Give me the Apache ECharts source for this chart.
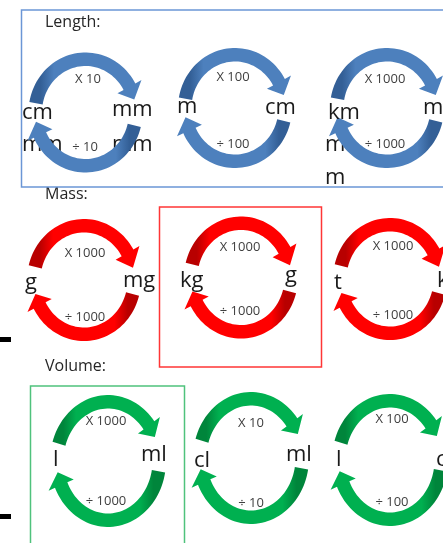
<!DOCTYPE html>
<html><head><meta charset="utf-8">
<script src="https://cdn.jsdelivr.net/npm/echarts@6/dist/echarts.min.js"></script>
<style>html,body{margin:0;padding:0;background:#fff}#c{width:443px;height:543px}</style>
</head><body><div id="c"></div>
<script>
// ---------- DATA ----------
const groupTitles = ['Length:', 'Mass:', 'Volume:'];
const fromUnits = [['cm', 'm', 'km'], ['g', 'kg', 't'], ['l', 'cl', 'l']];
const toUnits = [['mm', 'cm', 'm'], ['mg', 'g', 'k'], ['ml', 'ml', 'c']];
const factors = [[10, 100, 1000], [1000, 1000, 1000], [1000, 10, 100]];
const strayUnits = ['mm', 'mm', 'm', 'm'];

// ---------- LAYOUT (positions / sizes / styles) ----------
const centers = [[[85.5,112.5],[235,108],[387,108]], [[84,280],[241,277.5],[390,279]], [[108,461],[251,458],[390,460]]];
const radii = [[57,60],[57,61],[58,66]];
// arrow angles per row: [tail, head base, tip] for the upper and lower arrow
const topAngles = [[170,29,14],[166,30,13],[163,37,24]];
const botAngles = [[346,205,190],[345,208,195],[350,204,191]];
const fromPos = [[[22,113],[177,107],[328,113]], [[25,283],[180,281],[334,283]], [[53,460],[194,461],[336,460]]];
const toPos = [[[112,110],[265,108],[423,108]], [[123,281],[285,276],[437,281]], [[141,455],[286,455],[436,460]]];
const multPos = [[[88,79],[233,77],[385,79]], [[85,253],[240,247],[393,246]], [[106,421],[251,423],[392,419]]];
const divPos = [[[85,147],[233,144],[385,144]], [[85,317],[240,311],[393,315]], [[106,501],[251,503],[392,502]]];
const strayPos = [[22,145],[112,145],[325,145],[325,178]];
const titlePos = [[45,22],[45,194],[45,366]];
const boxes = [
  {r:[21.5,10,440,177], c:'#6b96d6'},
  {r:[159.5,207,162,160], c:'#ff3636'},
  {r:[30.5,386,154,170], c:'#4fc27c'}
];
const dashes = [[0,337,11,5],[0,514,11,5]];
const palette = [
  {base:'#4d80bd', dark:'#335f96'},
  {base:'#ff0000', dark:'#b80000'},
  {base:'#00b050', dark:'#00853b'}
];
const FONT = '"Open Sans", "Liberation Sans", sans-serif';

function arrowPoints(api, cx, cy, rx, ry, ang) {
  const w = 13.5, hx = 7;
  const tail = ang[0], base = ang[1], tip = ang[2];
  const pt = (deg, d) => {
    const a = deg * Math.PI / 180;
    return api.coord([cx + (rx - d) * Math.cos(a), cy - (ry - d) * Math.sin(a)]);
  };
  const pts = [];
  for (let t = tail; t > base; t -= 3) pts.push(pt(t, 0));
  pts.push(pt(base, 0));
  pts.push(pt(base, -hx));
  pts.push(pt(tip, w / 2));
  pts.push(pt(base, w + hx));
  pts.push(pt(base, w));
  for (let t = base + 3; t < tail; t += 3) pts.push(pt(t, w));
  pts.push(pt(tail, w));
  return pts;
}

function txt(api, s, x, y, size, color, align) {
  const p = api.coord([x, y]);
  return {type:'text', style:{text:s, x:p[0], y:p[1], font:size + 'px ' + FONT, fontSize:size, fontFamily:FONT,
    fill:color, align:align, textAlign:align, verticalAlign:'middle', textVerticalAlign:'middle'}};
}

const cycles = [];
for (let r = 0; r < 3; r++) for (let c = 0; c < 3; c++) cycles.push([r, c]);

const chart = echarts.init(document.getElementById('c'), null, {renderer:'canvas'});
chart.setOption({
  animation:false,
  backgroundColor:'#ffffff',
  grid:{left:0,right:0,top:0,bottom:0},
  xAxis:{type:'value',min:0,max:443,show:false},
  yAxis:{type:'value',min:0,max:543,inverse:true,show:false},
  series:[
    {
      type:'custom', silent:true, data:[[0,0]],
      renderItem:function(params, api){
        const ch = [];
        strayUnits.forEach((s,i)=>ch.push(txt(api, s, strayPos[i][0], strayPos[i][1], 22, '#1a1a1a', 'left')));
        groupTitles.forEach((s,i)=>ch.push(txt(api, s, titlePos[i][0], titlePos[i][1], 16, '#262626', 'left')));
        boxes.forEach(b=>{
          const p0 = api.coord([b.r[0], b.r[1]]), p1 = api.coord([b.r[0]+b.r[2], b.r[1]+b.r[3]]);
          ch.push({type:'rect', shape:{x:p0[0], y:p0[1], width:p1[0]-p0[0], height:p1[1]-p0[1]},
            style:{fill:null, stroke:b.c, lineWidth:1.5}});
        });
        dashes.forEach(d=>{
          const p0 = api.coord([d[0], d[1]]), p1 = api.coord([d[0]+d[2], d[1]+d[3]]);
          ch.push({type:'rect', shape:{x:p0[0], y:p0[1], width:p1[0]-p0[0], height:p1[1]-p0[1]}, style:{fill:'#000'}});
        });
        return {type:'group', children:ch};
      }
    },
    {
      type:'custom', silent:true, data:cycles,
      renderItem:function(params, api){
        const r = api.value(0), c = api.value(1);
        const [cx, cy] = centers[r][c];
        const [rx, ry] = radii[r];
        const col = palette[r];
        const stops = [{offset:0,color:col.dark},{offset:0.1,color:col.dark},{offset:0.22,color:col.base},{offset:1,color:col.base}];
        const ch = [];
        ch.push({type:'polygon', shape:{points:arrowPoints(api, cx, cy, rx, ry, topAngles[r])},
          style:{fill:new echarts.graphic.LinearGradient(0,0,1,0,stops)}});
        ch.push({type:'polygon', shape:{points:arrowPoints(api, cx, cy, rx, ry, botAngles[r])},
          style:{fill:new echarts.graphic.LinearGradient(1,0,0,0,stops)}});
        ch.push(txt(api, fromUnits[r][c], fromPos[r][c][0], fromPos[r][c][1], 22, '#1a1a1a', 'left'));
        ch.push(txt(api, toUnits[r][c], toPos[r][c][0], toPos[r][c][1], 22, '#1a1a1a', 'left'));
        ch.push(txt(api, 'X ' + factors[r][c], multPos[r][c][0], multPos[r][c][1], 13, '#404040', 'center'));
        ch.push(txt(api, '\u00f7 ' + factors[r][c], divPos[r][c][0], divPos[r][c][1], 13, '#404040', 'center'));
        return {type:'group', children:ch};
      }
    }
  ]
});
</script></body></html>
